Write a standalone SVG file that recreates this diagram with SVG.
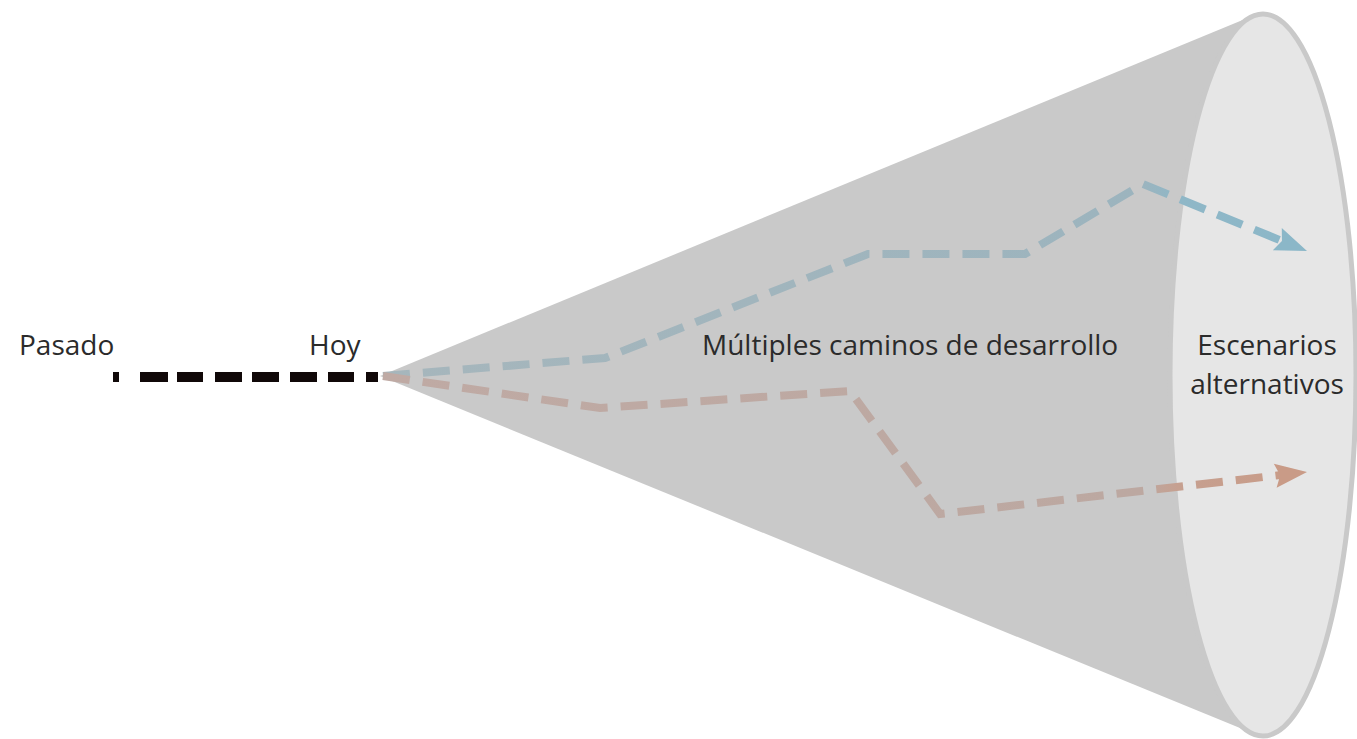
<svg xmlns="http://www.w3.org/2000/svg" width="1357" height="739" viewBox="0 0 1357 739">
<style>
  .lbl { font-family: "Open Sans", "Noto Sans", "Liberation Sans", sans-serif; font-size: 28px; fill: #2b2b2b; }
  .path { fill: none; stroke-width: 8; stroke-dasharray: 27 13; stroke-linejoin: miter; }
</style>
<defs>
  <linearGradient id="gBlue" gradientUnits="userSpaceOnUse" x1="383" y1="0" x2="1307" y2="0">
    <stop offset="0" stop-color="#a6b6bc"/>
    <stop offset="0.82" stop-color="#9cb4be"/>
    <stop offset="0.86" stop-color="#8fb7c7"/>
    <stop offset="1" stop-color="#8bb7c8"/>
  </linearGradient>
  <linearGradient id="gBrown" gradientUnits="userSpaceOnUse" x1="383" y1="0" x2="1307" y2="0">
    <stop offset="0" stop-color="#bfaaa4"/>
    <stop offset="0.82" stop-color="#bca8a1"/>
    <stop offset="0.86" stop-color="#c6a090"/>
    <stop offset="1" stop-color="#c99b87"/>
  </linearGradient>
  <path id="head" d="M0,0 L-32,-12 L-27,0 L-32,12 Z"/>
</defs>

<g id="cone">
  <polygon points="380,376 1262,12 1262,737" fill="#c9c9c9"/>
  <ellipse cx="1263" cy="375" rx="93" ry="361" fill="#e6e6e6" stroke="#c9c9c9" stroke-width="5"/>
</g>

<g id="connectors">
  <line id="past" x1="113" y1="377" x2="378" y2="377" stroke="#100808" stroke-width="10" stroke-dasharray="6 21 28 9 26 12 27 10 27 11 27 11 26 12 12"/>
  <polyline id="blue-path" class="path" stroke="url(#gBlue)" points="383,376 605,358 868,254 1025,254 1143,184 1282,241"/>
  <use href="#head" fill="#8bb7c8" transform="translate(1307,251) rotate(21.9)"/>
  <polyline id="brown-path" class="path" stroke="url(#gBrown)" points="383,376 600,408 850,391 940,514 1281,475"/>
  <use href="#head" fill="#c99b87" transform="translate(1307,472) rotate(-6.7)"/>
</g>

<g id="label-pasado"><text class="lbl" x="19" y="355">Pasado</text></g>
<g id="label-hoy"><text class="lbl" x="309" y="355">Hoy</text></g>
<g id="label-caminos"><text class="lbl" x="702" y="355">Múltiples caminos de desarrollo</text></g>
<g id="label-escenarios">
  <text class="lbl" x="1267" y="355" text-anchor="middle">Escenarios</text>
  <text class="lbl" x="1267" y="394" text-anchor="middle">alternativos</text>
</g>
</svg>
